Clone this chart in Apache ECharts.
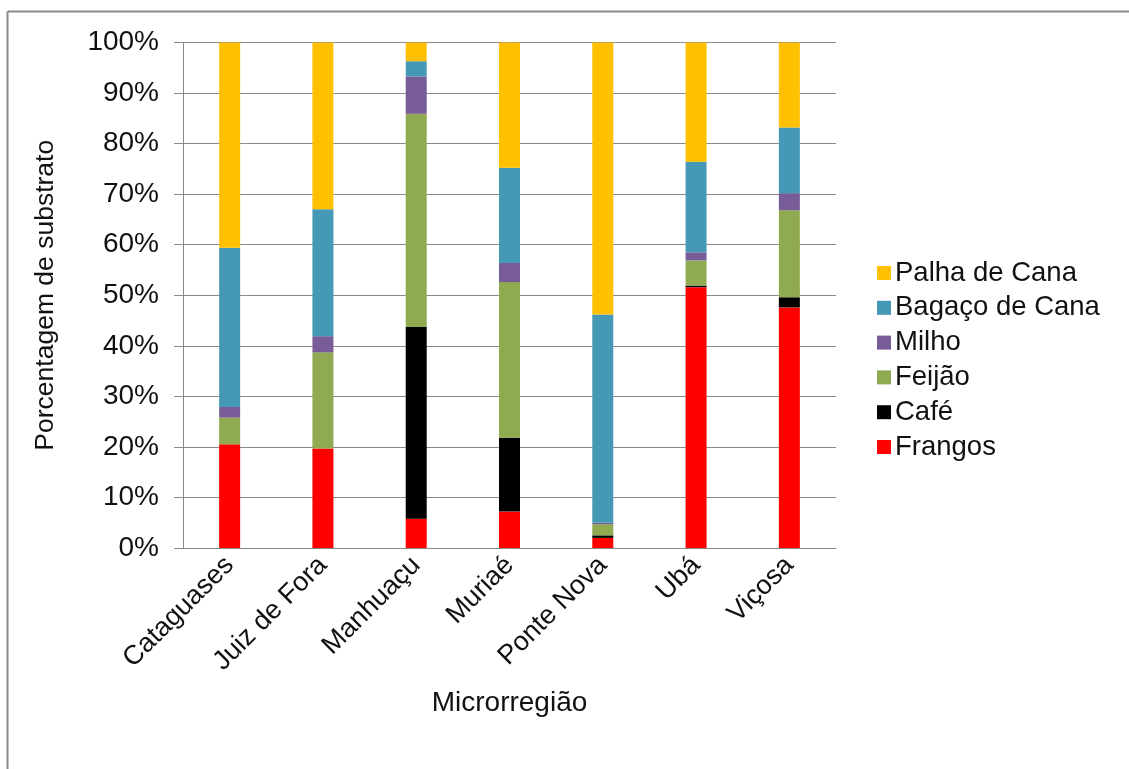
<!DOCTYPE html>
<html>
<head>
<meta charset="utf-8">
<script src="https://cdn.jsdelivr.net/npm/echarts@6/dist/echarts.min.js"></script>
<style>
html,body{margin:0;padding:0;background:#fff;}
#chart{width:1129px;height:769px;}
</style>
</head>
<body>
<div id="chart"></div>
<script>
const categories = ['Cataguases','Juiz de Fora','Manhuaçu','Muriaé','Ponte Nova','Ubá','Viçosa'];
const frangos = [20.5, 19.7, 5.8, 7.2, 2.0, 51.6, 47.6];
const cafe    = [0,    0,    37.9, 14.6, 0.5, 0.3, 2.0];
const feijao  = [5.3, 19.0, 42.2, 30.8, 2.2, 5.0, 17.2];
const milho   = [2.1,  3.2,  7.4,  3.8, 0.3, 1.6, 3.4];
const bagaco  = [31.5, 25.1, 3.0, 18.8, 41.2, 17.9, 13.0];
const palha   = [40.6, 33.0, 3.7, 24.8, 53.8, 23.6, 16.8];
const yTicks = [0,10,20,30,40,50,60,70,80,90,100];

const seriesDefs = [
  {name:'Frangos', data:frangos, color:'#FF0000'},
  {name:'Café', data:cafe, color:'#000000'},
  {name:'Feijão', data:feijao, color:'#8FAA50'},
  {name:'Milho', data:milho, color:'#775C98'},
  {name:'Bagaço de Cana', data:bagaco, color:'#4699B5'},
  {name:'Palha de Cana', data:palha, color:'#FFC000'}
];

const font = 'Liberation Sans, Arial, sans-serif';
const chart = echarts.init(document.getElementById('chart'), null, {renderer:'canvas'});
chart.setOption({
  animation:false,
  backgroundColor:'#fff',
  textStyle:{fontFamily:font},
  graphic:[
    {type:'line', shape:{x1:7.5,y1:11.5,x2:1129,y2:11.5}, style:{stroke:'#8a8a8a', lineWidth:2}},
    {type:'line', shape:{x1:7.5,y1:11.5,x2:7.5,y2:769}, style:{stroke:'#8a8a8a', lineWidth:2}}
  ],
  legend:{
    orient:'vertical',
    left:872, top:254,
    itemWidth:14, itemHeight:14, itemGap:6.8,
    icon:'rect',
    data:['Palha de Cana','Bagaço de Cana','Milho','Feijão','Café','Frangos'],
    textStyle:{fontSize:27.5, color:'#111', fontFamily:font, padding:[0,0,0,-1]}
  },
  grid:{left:183, top:42.5, right:1129-836, bottom:769-548, containLabel:false},
  xAxis:{
    type:'category',
    data:categories,
    axisLine:{lineStyle:{color:'#8a8a8a', width:1}},
    axisTick:{show:false},
    axisLabel:{rotate:45, fontSize:27, color:'#111', margin:13, fontFamily:font},
    name:'Microrregião',
    nameLocation:'middle',
    nameGap:141,
    nameTextStyle:{fontSize:28, color:'#111', fontFamily:font}
  },
  yAxis:{
    type:'value',
    min:0, max:100, interval:10,
    axisLine:{show:true, lineStyle:{color:'#8a8a8a', width:1}},
    axisTick:{show:true, inside:false, length:9, lineStyle:{color:'#8a8a8a'}},
    splitLine:{lineStyle:{color:'#8a8a8a', width:1}},
    axisLabel:{fontSize:28, color:'#111', margin:24, fontFamily:font,
      formatter:function(v){return yTicks.indexOf(v)>=0 ? v+'%' : '';}},
    name:'Porcentagem de substrato',
    nameLocation:'middle',
    nameGap:124,
    nameRotate:90,
    nameTextStyle:{fontSize:26.5, color:'#111', fontFamily:font}
  },
  series: seriesDefs.map(function(s){
    return {
      name:s.name, type:'bar', stack:'total', data:s.data,
      barWidth:21, itemStyle:{color:s.color},
      emphasis:{disabled:true}
    };
  })
});
</script>
</body>
</html>
